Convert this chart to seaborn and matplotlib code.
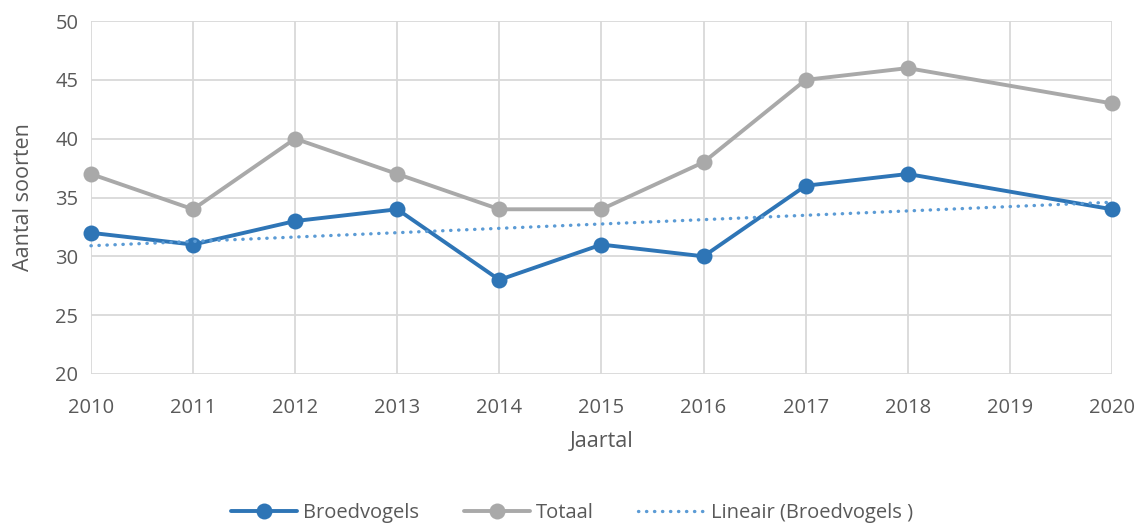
import matplotlib.pyplot as plt
import numpy as np
import pandas as pd
import seaborn as sns

years = [2010, 2011, 2012, 2013, 2014, 2015, 2016, 2017, 2018, 2019, 2020]
broedvogels = [32, 31, 33, 34, 28, 31, 30, 36, 37, np.nan, 34]
totaal = [37, 34, 40, 37, 34, 34, 38, 45, 46, np.nan, 43]
# linear trend of Broedvogels, as read at both ends of the chart
trend_years = [2010, 2020]
trend_values = [30.9, 34.6]

df = pd.DataFrame({'Jaartal': years, 'Broedvogels': broedvogels, 'Totaal': totaal}).dropna()
df_trend = pd.DataFrame({'Jaartal': trend_years, 'Lineair': trend_values})

sns.set_style('white')
plt.rcParams['font.family'] = ['Open Sans', 'DejaVu Sans']
text_col = '#595959'

fig = plt.figure(figsize=(11.44, 5.26), dpi=100)
ax = fig.add_axes([0.0795, 0.289, 0.8925, 0.671])

sns.lineplot(x='Jaartal', y='Broedvogels', data=df, ax=ax, color='#2E75B6', lw=2.8,
             marker='o', markersize=11.5, markeredgewidth=0, label='Broedvogels', zorder=4, clip_on=False)
sns.lineplot(x='Jaartal', y='Totaal', data=df, ax=ax, color='#A9A9A9', lw=2.8,
             marker='o', markersize=11.5, markeredgewidth=0, label='Totaal', zorder=3, clip_on=False)
sns.lineplot(x='Jaartal', y='Lineair', data=df_trend, ax=ax, color='#5B9BD5', lw=2.4,
             linestyle=(0, (0.1, 2.3)), dash_capstyle='round', label='Lineair (Broedvogels )', zorder=5,
             clip_on=False)

ax.set_xlim(2010, 2020)
ax.set_ylim(20, 50)
ax.set_xticks(years)
ax.set_yticks(range(20, 51, 5))
ax.grid(True, color='#D9D9D9', lw=1.3)
ax.set_axisbelow(True)
for s in ax.spines.values():
    s.set_visible(False)
ax.tick_params(axis='both', length=0, labelsize=14.5, labelcolor=text_col)
ax.tick_params(axis='x', pad=17)
ax.tick_params(axis='y', pad=9)
ax.set_xlabel('Jaartal', fontsize=15.5, color=text_col, labelpad=10)
ax.set_ylabel('Aantal soorten', fontsize=15.5, color=text_col, labelpad=15)

handles, labels = ax.get_legend_handles_labels()
ax.get_legend().remove()
fig.legend(handles, labels, loc='center', bbox_to_anchor=(0.50, 0.025), ncol=3, frameon=False,
           fontsize=14.5, labelcolor=text_col, handlelength=3.3, columnspacing=2.2, handletextpad=0.3)

fig.savefig('out.png', dpi=100)
